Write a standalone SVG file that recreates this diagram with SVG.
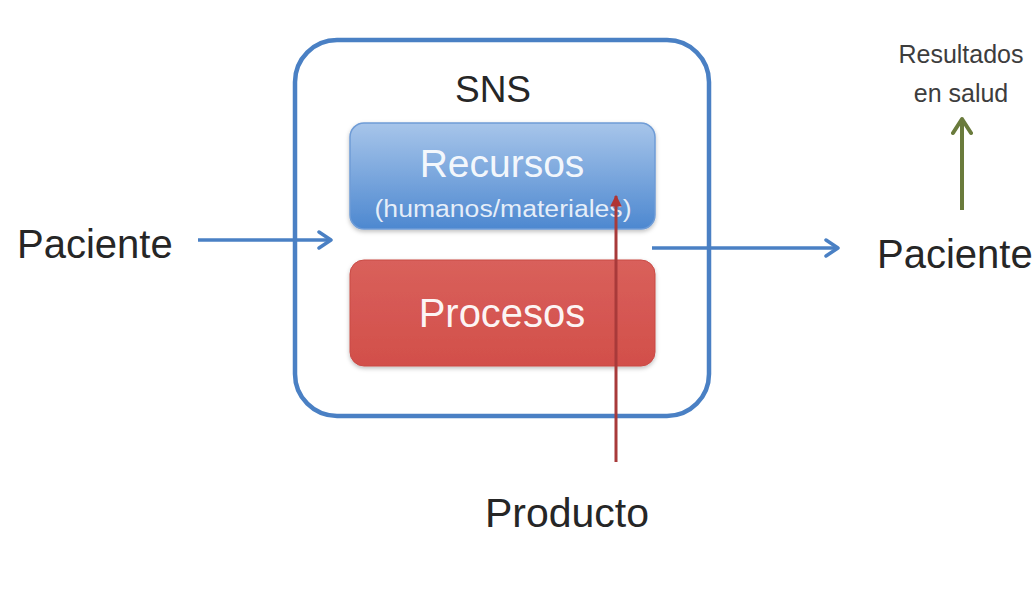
<svg xmlns="http://www.w3.org/2000/svg" width="1033" height="601" viewBox="0 0 1033 601">
<style>
text{font-family:"Liberation Sans",Arial,sans-serif;}
.dark{fill:#262626;}
.white{fill:#ffffff;}
.blue{stroke:#4a80c4;stroke-width:3.5;fill:none;}
</style>
<defs>
<linearGradient id="gBlue" x1="0" y1="0" x2="0" y2="1">
<stop offset="0" stop-color="#a7c5ea"/>
<stop offset="1" stop-color="#4d88d0"/>
</linearGradient>
<linearGradient id="gRed" x1="0" y1="0" x2="0" y2="1">
<stop offset="0" stop-color="#d9605b"/>
<stop offset="1" stop-color="#d24f4a"/>
</linearGradient>
<marker id="aBlue" viewBox="0 0 20 20" refX="17" refY="10" markerWidth="20" markerHeight="20" markerUnits="userSpaceOnUse" orient="auto">
<path d="M5,2 L17,10 L5,18" fill="none" stroke="#4a80c4" stroke-width="3.5" stroke-linecap="round" stroke-linejoin="round"/>
</marker>
<marker id="aGreen" viewBox="0 0 22 22" refX="19" refY="11" markerWidth="22" markerHeight="22" markerUnits="userSpaceOnUse" orient="auto">
<path d="M5,2 L19,11 L5,20" fill="none" stroke="#6a7b3c" stroke-width="4" stroke-linecap="round" stroke-linejoin="round"/>
</marker>
<marker id="aRed" viewBox="0 0 12 12" refX="10" refY="6" markerWidth="14" markerHeight="14" markerUnits="userSpaceOnUse" orient="auto">
<path d="M1,1 L11,6 L1,11 Z" fill="#b03434"/>
</marker>
<filter id="sh" x="-10%" y="-10%" width="120%" height="130%">
<feDropShadow dx="0" dy="2" stdDeviation="2" flood-color="#000" flood-opacity="0.25"/>
</filter>
</defs>
<rect width="1033" height="601" fill="#ffffff"/>

<g id="sns">
<rect x="295" y="40" width="414" height="376" rx="42" ry="42" fill="none" stroke="#4a80c4" stroke-width="4.5"/>
<text x="493" y="102" font-size="37" text-anchor="middle" class="dark">SNS</text>
</g>

<g id="recursos">
<rect x="350" y="123" width="305" height="106" rx="14" ry="14" fill="url(#gBlue)" stroke="#6f9cd6" stroke-width="1.5" filter="url(#sh)"/>
<text x="502" y="177" font-size="39" text-anchor="middle" class="white" fill-opacity="0.92">Recursos</text>
<text x="503" y="217" font-size="23" text-anchor="middle" class="white" fill-opacity="0.85" textLength="257" lengthAdjust="spacingAndGlyphs">(humanos/materiales)</text>
</g>

<g id="procesos">
<rect x="350" y="260" width="305" height="106" rx="14" ry="14" fill="url(#gRed)" stroke="#c94a45" stroke-width="1" filter="url(#sh)"/>
<text x="502" y="327" font-size="40" text-anchor="middle" class="white" fill-opacity="0.95">Procesos</text>
</g>

<g id="paciente-in">
<text x="17" y="258" font-size="40" class="dark">Paciente</text>
</g>

<g id="paciente-out">
<text x="877" y="268" font-size="40" class="dark">Paciente</text>
</g>

<g id="resultados">
<text x="961" y="63" font-size="25" text-anchor="middle" fill="#3d3d3d">Resultados</text>
<text x="961" y="102" font-size="25" text-anchor="middle" fill="#3d3d3d">en salud</text>
</g>

<g id="producto">
<text x="567" y="527" font-size="41" text-anchor="middle" class="dark">Producto</text>
</g>

<g id="connectors">
<line x1="198" y1="240" x2="331" y2="240" class="blue" marker-end="url(#aBlue)"/>
<line x1="652" y1="248" x2="838" y2="248" class="blue" marker-end="url(#aBlue)"/>
<line x1="962" y1="210" x2="962" y2="119" stroke="#6a7b3c" stroke-width="4" marker-end="url(#aGreen)"/>
<line x1="616" y1="462" x2="616" y2="196" stroke="#a83a3a" stroke-width="3" marker-end="url(#aRed)"/>
</g>
</svg>
